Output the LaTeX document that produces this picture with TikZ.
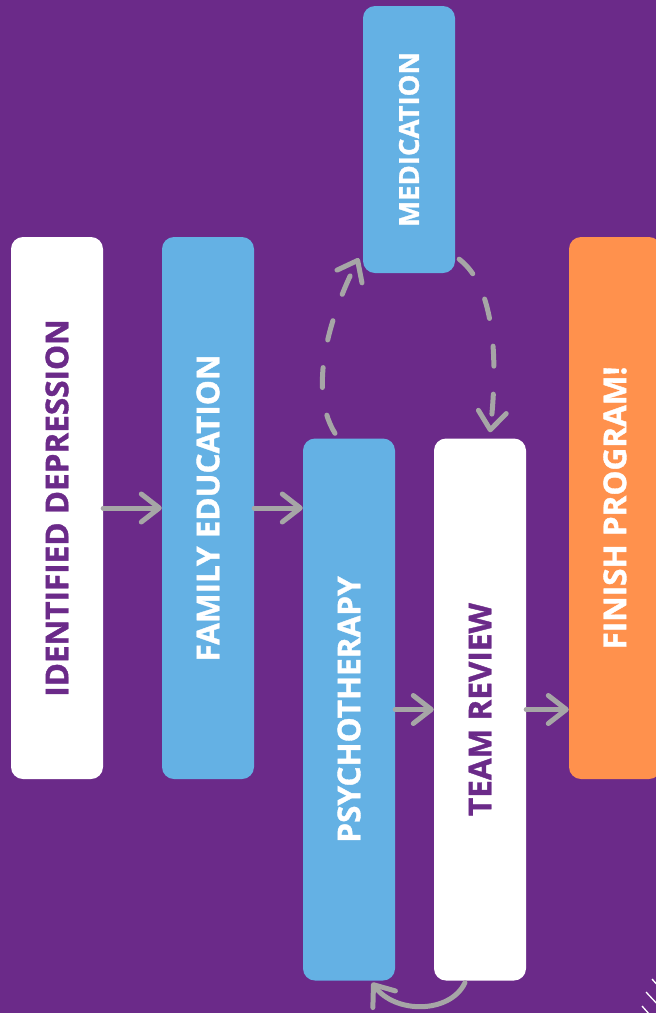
\documentclass[tikz,border=0pt]{standalone}
\usepackage{fontspec}
\setmainfont{Open Sans}[BoldFeatures={FakeBold=1.2}]
\usepackage{graphicx}
\usetikzlibrary{arrows.meta,calc}
\definecolor{bgpurple}{HTML}{6B2A89}
\definecolor{boxblue}{HTML}{64B1E4}
\definecolor{boxorange}{HTML}{FF914D}
\definecolor{arrowgray}{HTML}{A6A6A6}
\tikzset{
  stagebox/.style={rounded corners=12pt, inner sep=0pt, minimum width=92pt, minimum height=542pt,
    font=\fontsize{31.5}{38}\selectfont\bfseries},
  bluebox/.style={stagebox, fill=boxblue, text=white},
  whitebox/.style={stagebox, fill=white, text=bgpurple},
  orangebox/.style={stagebox, fill=boxorange, text=white},
  flow/.style={draw=arrowgray, line width=5pt, line cap=round,
    -{Straight Barb[length=18pt,width=28pt,round]}},
  loopflow/.style={flow, dash pattern=on 20pt off 28pt},
  hatch/.style={draw=white, line width=1.3pt}
}
\begin{document}
\begin{tikzpicture}[x=1pt,y=-1pt]
\useasboundingbox (0,0) rectangle (656,1013);
\clip (0,0) rectangle (656,1013);
\fill[bgpurple] (0,0) rectangle (656,1013);

\node[whitebox] (idn) at (57,508) {\rotatebox{90}{IDENTIFIED DEPRESSION}};
\node[bluebox] (fam) at (208,508) {\rotatebox{90}{FAMILY EDUCATION}};
\node[bluebox] (psy) at (349,709.5) {\rotatebox{90}{PSYCHOTHERAPY}};
\node[bluebox, minimum height=267pt, font=\fontsize{27.5}{33}\selectfont\bfseries] (med) at (409,139.5) {\rotatebox{90}{MEDICATION}};
\node[whitebox] (team) at (480,709.5) {\rotatebox{90}{TEAM REVIEW}};
\node[orangebox] (fin) at (615,508) {\rotatebox{90}{FINISH PROGRAM!}};

\draw[flow] (idn.east) -- (fam.west);
\draw[flow] (fam.east) -- (psy.west |- fam.east);
\draw[flow] (psy.east) -- (team.west);
\draw[flow] (team.east) -- (fin.west |- team.east);

\draw[loopflow] ($(psy.north)+(-14,-5)$) .. controls (305,385) and (335,305) .. ($(med.south west)+(-4,-15)$);
\draw[loopflow] ($(med.south east)+(4,-14)$) .. controls (500,290) and (496,380) .. ($(team.north)+(10,-6)$);
\draw[flow] ($(team.south)+(-15,2)$) .. controls (450,1014) and (395,1014) .. ($(psy.south)+(23,2)$);

\draw[hatch] (652,979) -- (660,988);
\draw[hatch] (646,992) -- (660,1007);
\draw[hatch] (642,1006) -- (650,1015);
\end{tikzpicture}
\end{document}
